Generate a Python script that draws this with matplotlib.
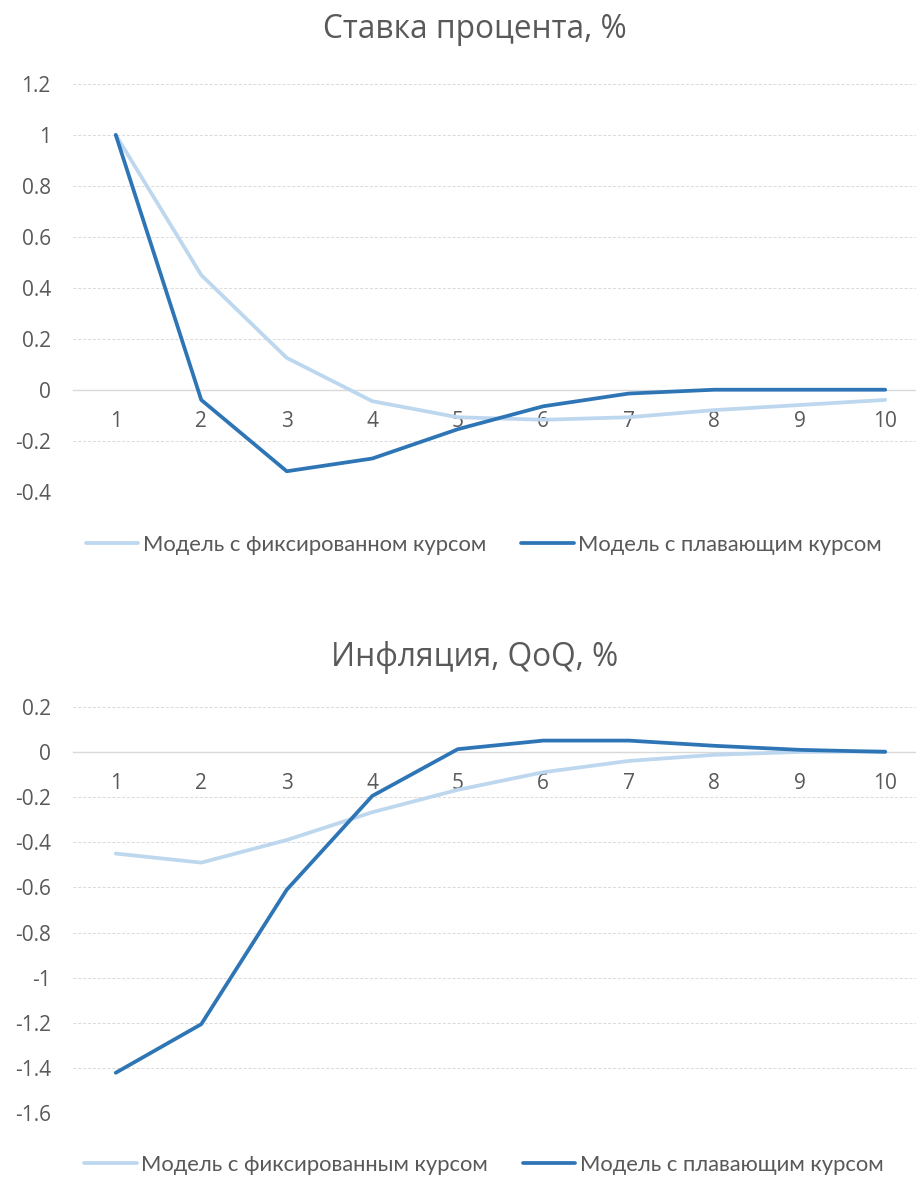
import matplotlib
matplotlib.use("Agg")
import matplotlib.pyplot as plt
import numpy as np

periods = list(range(1, 11))

rate_fixed = [1.0, 0.45, 0.125, -0.045, -0.108, -0.118, -0.108, -0.08, -0.06, -0.04]
rate_float = [1.0, -0.04, -0.32, -0.27, -0.155, -0.065, -0.015, 0.0, 0.0, 0.0]

infl_fixed = [-0.45, -0.49, -0.39, -0.267, -0.168, -0.09, -0.04, -0.013, 0.0, 0.003]
infl_float = [-1.42, -1.205, -0.61, -0.195, 0.012, 0.05, 0.05, 0.027, 0.009, 0.0]

title_top = "Ставка процента, %"
title_bottom = "Инфляция, QoQ, %"
labels_top = ["Модель с фиксированном курсом", "Модель с плавающим курсом"]
labels_bottom = ["Модель с фиксированным курсом", "Модель с плавающим курсом"]

light = "#BDD7EE"
dark = "#2E75B6"
grey_txt = "#595959"
grid_c = "#D9D9D9"

fig = plt.figure(figsize=(9.16, 11.79), dpi=100)
fig.patch.set_facecolor("white")


def panel(rect, fixed, floating, yticks, title, title_y, labels, leg_y):
    ax = fig.add_axes(rect)
    # move the category axis to y=0 first, it resets tick settings
    for s in ["top", "right", "left"]:
        ax.spines[s].set_visible(False)
    ax.spines["bottom"].set_position(("data", 0))
    ax.spines["bottom"].set_color(grid_c)
    ax.spines["bottom"].set_linewidth(1.0)
    ax.spines["bottom"].set_zorder(1)

    ax.plot(periods, fixed, color=light, lw=2.7, label=labels[0], solid_capstyle="round")
    ax.plot(periods, floating, color=dark, lw=2.7, label=labels[1], solid_capstyle="round")
    ax.set_xlim(0.5, 10.5)
    ax.set_ylim(yticks[0], yticks[-1])
    ax.set_yticks(yticks)
    ax.set_yticklabels(["%g" % t for t in yticks], fontfamily="Open Sans",
                       fontsize=15, color=grey_txt)
    ax.set_xticks(periods)
    ax.set_xticklabels([str(p) for p in periods], fontfamily="Open Sans",
                       fontsize=15, color=grey_txt)
    ax.tick_params(axis="y", length=0, pad=16)
    ax.tick_params(axis="x", length=0, pad=15)
    ax.yaxis.grid(True, color=grid_c, linestyle=(0, (3, 2)), linewidth=0.7)
    ax.set_axisbelow(True)
    fig.text(0.518, title_y, title, ha="center", va="center",
             fontfamily="Open Sans", fontsize=22.8, color=grey_txt)
    fig.legend(handles=ax.get_lines(), labels=labels, loc="center",
               bbox_to_anchor=(0.528, leg_y), ncol=2, frameon=False,
               prop={"family": "Lato", "size": 15.8}, labelcolor=grey_txt,
               handlelength=2.4, handletextpad=0.2, columnspacing=1.6)
    return ax


panel([0.0797, 0.5830, 0.9334, 0.3458], rate_fixed, rate_float,
      [-0.4, -0.2, 0, 0.2, 0.4, 0.6, 0.8, 1.0, 1.2], title_top,
      1 - 29 / 1179, labels_top, 1 - 545 / 1179)

panel([0.0797, 0.0556, 0.9334, 0.3450], infl_fixed, infl_float,
      [-1.6, -1.4, -1.2, -1.0, -0.8, -0.6, -0.4, -0.2, 0, 0.2], title_bottom,
      1 - 657 / 1179, labels_bottom, 1 - 1165 / 1179)

fig.savefig("out.png", dpi=100)
